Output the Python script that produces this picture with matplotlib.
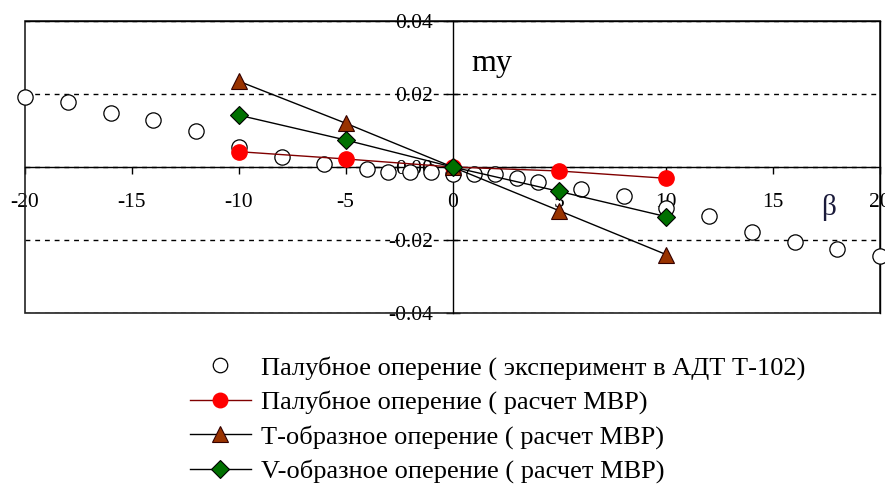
import matplotlib
matplotlib.use("Agg")
import matplotlib.pyplot as plt
import matplotlib.patches as mpatches
import matplotlib.ticker as ticker

plt.rcParams.update({
    "font.family": ["Liberation Serif", "DejaVu Serif"],
    "axes.unicode_minus": False,
})

# ── Data ──────────────────────────────────────────────────────────────────────
beta_exp = [-20, -18, -16, -14, -12, -10, -8, -6, -4, -3, -2, -1, 0,
            1, 2, 3, 4, 6, 8, 10, 12, 14, 16, 18, 20]
my_exp = [0.0192, 0.0178, 0.0148, 0.0129, 0.0100, 0.0055, 0.0027, 0.0009,
          -0.0005, -0.0015, -0.0015, -0.0013, -0.0020,
          -0.0018, -0.0018, -0.0029, -0.0040, -0.0060, -0.0080, -0.0111,
          -0.0133, -0.0178, -0.0205, -0.0225, -0.0245]

beta_calc = [-10, -5, 0, 5, 10]
my_deck = [0.0042, 0.0022, 0.0, -0.0011, -0.0031]
my_t = [0.0235, 0.0120, 0.0, -0.0120, -0.0240]
my_v = [0.0142, 0.0074, 0.0, -0.0067, -0.0136]

labels = [
    "Палубное оперение ( эксперимент в АДТ Т-102)",
    "Палубное оперение ( расчет МВР)",
    "Т-образное оперение ( расчет МВР)",
    "V-образное оперение ( расчет МВР)",
]
x_ticks = [-20, -15, -10, -5, 0, 5, 10, 15, 20]
y_ticks = [-0.04, -0.02, 0.0, 0.02, 0.04]

# ── Figure ────────────────────────────────────────────────────────────────────
fig = plt.figure(figsize=(8.85, 4.84), dpi=100)
ax = fig.add_axes([25 / 885, 1 - 313 / 484, 855 / 885, 292 / 484])

ax.plot(beta_exp, my_exp, ls="none", marker="o", ms=11, mfc="white",
        mec="black", mew=0.9, zorder=3, clip_on=False, label=labels[0])
ax.plot(beta_calc, my_deck, color="#800000", lw=1.0, marker="o", ms=11,
        mfc="#ff0000", mec="#ff0000", zorder=4, label=labels[1])
ax.plot(beta_calc, my_t, color="black", lw=1.0, marker="^", ms=12,
        mfc="#993300", mec="#330000", mew=0.8, zorder=5, label=labels[2])
ax.plot(beta_calc, my_v, color="black", lw=1.0, marker="D", ms=9.5,
        mfc="#007000", mec="black", mew=0.8, zorder=6, label=labels[3])

ax.set_xlim(-20, 20)
ax.set_ylim(-0.04, 0.04)

# axes crossing at zero, plus a full frame
ax.spines["left"].set_position(("data", 0))
ax.spines["bottom"].set_position(("data", 0))
for s in ax.spines.values():
    s.set_linewidth(1.0)
ax.add_patch(mpatches.Rectangle((0, 0), 1, 1, transform=ax.transAxes,
                                fill=False, lw=1.2, ec="#222222",
                                clip_on=False, zorder=2))

ax.set_xticks(x_ticks)
ax.set_yticks(y_ticks)
ax.yaxis.set_major_formatter(ticker.FuncFormatter(lambda v, p: f"{v:.2f}"))
ax.tick_params(axis="x", direction="out", length=5, width=1.0, pad=14,
               labelsize=15.5)
ax.tick_params(axis="y", direction="inout", length=10, width=1.0, pad=9,
               labelsize=15.5)

ax.yaxis.grid(True, ls=(0, (3.5, 3.5)), color="black", lw=1.0)
ax.set_axisbelow(True)

ax.text(1.85, 0.0283, "my", fontsize=23, ha="center", va="center")
ax.text(17.6, -0.0112, "β", fontsize=21, ha="center", va="center",
        color="#1a1a3a")

fig.legend(loc="upper left", bbox_to_anchor=(190 / 885, 1 - 356 / 484),
           frameon=False, fontsize=19, handlelength=2.3, handletextpad=0.4,
           labelspacing=0.40, borderpad=0, borderaxespad=0, markerscale=0.95)

fig.savefig("out.png", dpi=100)
